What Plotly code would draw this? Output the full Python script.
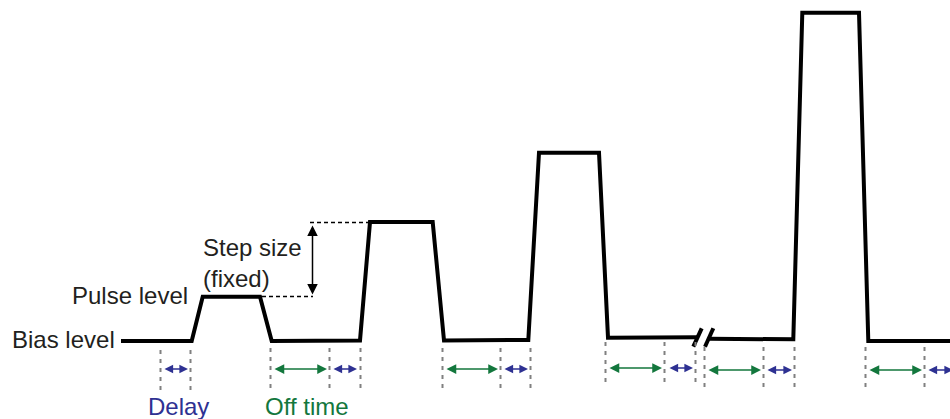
import plotly.graph_objects as go

# ---- data (time in arbitrary units, level = signal level in arbitrary units) ----
wave1_time = [121, 191.7, 202.7, 260, 271.7, 360, 370, 432.7, 444, 528.3, 539, 599, 608, 697.5]
wave1_level = [0, 0, 44.3, 44.3, 0, 0.5, 119, 119, 0.5, 1, 188.3, 188.3, 3.3, 3.8]
wave2_time = [709.5, 793.3, 802.3, 859, 868.3, 960]
wave2_level = [2.2, 1.7, 328.3, 328.3, 0, 0]

break_time = [[693.3, 701.7], [705, 713.3]]
break_level = [[-5.7, 12.7], [-5.7, 12.7]]

# step-size indicator
step_low_time = [262, 313]
step_low_level = [44.5, 44.5]
step_high_time = [310, 370]
step_high_level = [118.5, 118.5]
step_arrow_time = 312.5
step_arrow_from, step_arrow_to = 117, 46.5

# vertical dotted markers
marker_time = [160.5, 190.5, 270.5, 329.5, 360.5, 442.5, 500.5, 530.5,
               605.5, 664.5, 695.5, 704.5, 763.5, 794.5, 865.5, 924.5]
marker_top = [-9, -9, -7, -7, -7, -7, -7, -7, -1, -1, -1, -6, -6, -6, -6, -6]
marker_bottom = [-50, -50, -50, -50, -50, -50, -50, -50, -46, -46, -46, -47, -47, -47, -49, -49]

# interval arrows
delay_start = [163, 332, 503, 668, 766, 927]
delay_end = [188, 357, 528, 693, 792, 953]
delay_level = [-28, -28, -28, -27, -29, -29]
off_start = [273, 445, 608, 707, 868]
off_end = [327, 498, 662, 761, 922]
off_level = [-28, -28, -27, -29, -29]

labels = ["Bias level", "Pulse level", "Step size<br>(fixed)", "Delay", "Off time"]

BLACK = "#000000"
BLUE = "#2e3192"
GREEN = "#13773d"
GRAY = "#808080"
FONT = "Liberation Sans, Arial, sans-serif"

fig = go.Figure()

for t, l in [(wave1_time, wave1_level), (wave2_time, wave2_level)]:
    fig.add_trace(go.Scatter(x=t, y=l, mode="lines", line=dict(color=BLACK, width=4),
                             hoverinfo="skip", showlegend=False))
for t, l in zip(break_time, break_level):
    fig.add_trace(go.Scatter(x=t, y=l, mode="lines", line=dict(color=BLACK, width=4),
                             hoverinfo="skip", showlegend=False))

for t, l in [(step_low_time, step_low_level), (step_high_time, step_high_level)]:
    fig.add_trace(go.Scatter(x=t, y=l, mode="lines",
                             line=dict(color=BLACK, width=1.3, dash="4px,3px"),
                             hoverinfo="skip", showlegend=False))

for t, a, b in zip(marker_time, marker_top, marker_bottom):
    fig.add_trace(go.Scatter(x=[t, t], y=[a, b], mode="lines",
                             line=dict(color=GRAY, width=2, dash="4px,5px"),
                             hoverinfo="skip", showlegend=False))

def dbl_arrow(x0, x1, y0, y1, color, width=1.5, size=1.2):
    fig.add_annotation(x=x1, y=y1, ax=x0, ay=y0, xref="x", yref="y", axref="x", ayref="y",
                       text="", showarrow=True, arrowhead=2, startarrowhead=2,
                       arrowside="end+start", arrowsize=size, startarrowsize=size,
                       arrowwidth=width, arrowcolor=color, standoff=0, startstandoff=0)

dbl_arrow(step_arrow_time, step_arrow_time, step_arrow_from, step_arrow_to, BLACK, 1.5, 1.4)
for s, e, l in zip(delay_start, delay_end, delay_level):
    dbl_arrow(s, e, l, l, BLUE, 1.5, 1.15)
for s, e, l in zip(off_start, off_end, off_level):
    dbl_arrow(s, e, l, l, GREEN, 1.5, 1.3)

fs = 24
fig.add_annotation(x=117, y=1.5, text=labels[0], showarrow=False, xanchor="right",
                   yanchor="middle", font=dict(family=FONT, size=fs, color="#231f20"))
fig.add_annotation(x=190, y=45.5, text=labels[1], showarrow=False, xanchor="right",
                   yanchor="middle", font=dict(family=FONT, size=fs, color="#231f20"))
fig.add_annotation(x=201, y=78, text=labels[2], showarrow=False, xanchor="left", align="left",
                   yanchor="middle", font=dict(family=FONT, size=fs, color="#231f20"))
fig.add_annotation(x=178, y=-65, text=labels[3], showarrow=False, xanchor="center",
                   yanchor="middle", font=dict(family=FONT, size=fs, color=BLUE))
fig.add_annotation(x=307, y=-65, text=labels[4], showarrow=False, xanchor="center",
                   yanchor="middle", font=dict(family=FONT, size=fs, color=GREEN))

fig.update_xaxes(range=[0, 950], visible=False, fixedrange=True)
fig.update_yaxes(range=[-78, 341], visible=False, fixedrange=True)
fig.update_layout(width=950, height=419, margin=dict(l=0, r=0, t=0, b=0),
                  paper_bgcolor="white", plot_bgcolor="white", showlegend=False)

fig.write_html("out.html", config={"displayModeBar": False},
               post_script="document.body.style.margin='0px';document.body.style.overflow='hidden';")
